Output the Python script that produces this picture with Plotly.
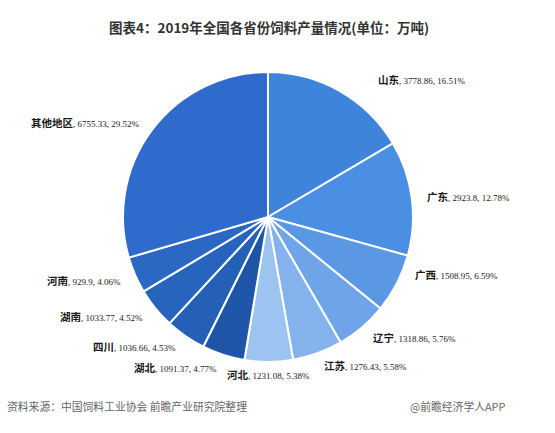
import math

import plotly.graph_objects as go

# 2019 feed output by province (10k tonnes), clockwise from 12 o'clock
provinces = ['山东', '广东', '广西', '辽宁', '江苏', '河北', '湖北', '四川', '湖南', '河南', '其他地区']
output = [3778.86, 2923.8, 1508.95, 1318.86, 1276.43, 1231.08, 1091.37, 1036.66, 1033.77, 929.9, 6755.33]
shares = ['16.51%', '12.78%', '6.59%', '5.76%', '5.58%', '5.38%', '4.77%', '4.53%', '4.52%', '4.06%', '29.52%']
value_labels = ['3778.86', '2923.8', '1508.95', '1318.86', '1276.43', '1231.08', '1091.37', '1036.66', '1033.77', '929.9', '6755.33']

slice_colors = [
    '#3F84DB', '#4A8FE3', '#5A98E4', '#6FA5E8', '#84B2EC', '#9DC3F1',
    '#1E55A8', '#2460B5', '#2764BD', '#2A68C4', '#2E6BCC',
]

W, H = 555, 433
cx, cy, r = 268, 217, 145

fig = go.Figure(
    go.Pie(
        labels=provinces,
        values=output,
        sort=False,
        direction='clockwise',
        rotation=0,
        textinfo='none',
        marker=dict(colors=slice_colors, line=dict(color='white', width=2)),
        domain=dict(x=[(cx - r) / W, (cx + r) / W], y=[1 - (cy + r) / H, 1 - (cy - r) / H]),
        showlegend=False,
        hoverinfo='label+value+percent',
    )
)

# outside labels sit on each slice's mid-angle; a few are nudged like the source
label_r = 158
nudge = {'山东': (30, 0), '广西': (5, -15)}
total = sum(output)
cum = 0
for name, val, vlab, share in zip(provinces, output, value_labels, shares):
    mid = (cum + val / 2) / total * 2 * math.pi
    cum += val
    dx, dy = nudge.get(name, (0, 0))
    x = cx + label_r * math.sin(mid) + dx
    y = cy - label_r * math.cos(mid) + dy
    deg = math.degrees(mid)
    if abs(deg - 180) < 10:
        anchor = 'center'
    elif deg < 180:
        anchor = 'left'
    else:
        anchor = 'right'
    fig.add_annotation(
        x=x / W,
        y=1 - y / H,
        xref='paper',
        yref='paper',
        xanchor=anchor,
        yanchor='middle',
        showarrow=False,
        text=(
            f'<span style="font-size:10.5px;font-family:Noto Sans CJK SC"><b>{name}</b></span>'
            f', {vlab}, {share}'
        ),
        font=dict(size=9, color='#1a1a1a', family='Liberation Serif, DejaVu Serif, serif'),
    )

fig.add_annotation(
    x=269 / W, y=1 - 27 / H, xref='paper', yref='paper', xanchor='center', yanchor='middle',
    showarrow=False,
    text='<b>图表4：2019年全国各省份饲料产量情况(单位：万吨)</b>',
    font=dict(size=13.5, color='#333333', family='Noto Sans CJK SC'),
)
fig.add_annotation(
    x=5 / W, y=1 - 406 / H, xref='paper', yref='paper', xanchor='left', yanchor='middle',
    showarrow=False,
    text='资料来源：中国饲料工业协会 前瞻产业研究院整理',
    font=dict(size=10.8, color='#666666', family='Noto Sans CJK SC'),
)
fig.add_annotation(
    x=507 / W, y=1 - 406 / H, xref='paper', yref='paper', xanchor='right', yanchor='middle',
    showarrow=False,
    text='@前瞻经济学人APP',
    font=dict(size=10.8, color='#666666', family='Noto Sans CJK SC'),
)

fig.update_layout(
    width=W,
    height=H,
    margin=dict(l=0, r=0, t=0, b=0),
    paper_bgcolor='white',
    plot_bgcolor='white',
)

# drop the default body margin so the 555x433 figure fills the window
fig.write_html(
    'out.html',
    config={'displayModeBar': False},
    post_script="document.body.style.margin='0';",
)
